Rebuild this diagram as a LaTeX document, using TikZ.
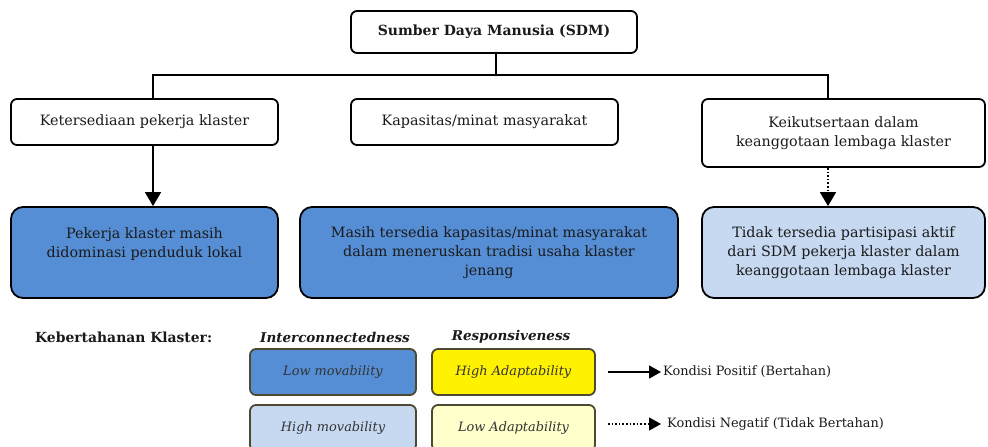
\documentclass[tikz,border=0pt]{standalone}
\usepackage{fontspec}
\setmainfont{DejaVu Serif}
\usetikzlibrary{arrows.meta}
\definecolor{boxblue}{HTML}{558ED5}
\definecolor{lightblue}{HTML}{C6D9F1}
\definecolor{lightyellow}{HTML}{FFFFCC}
\definecolor{olive}{HTML}{4D4830}
\definecolor{txt}{HTML}{1A1A1A}
\tikzset{
  basebox/.style={draw=black, line width=1.8pt, rounded corners=6pt, align=center, text=txt,
    font=\fontsize{14.3}{19}\selectfont, inner sep=0pt},
  whitebox/.style={basebox, fill=white},
  bluebox/.style={basebox, fill=boxblue, rounded corners=12pt},
  lbluebox/.style={basebox, fill=lightblue, rounded corners=12pt},
  legbox/.style={draw=olive, line width=1.8pt, rounded corners=6pt, text=black!80,
    font=\fontsize{12.9}{15}\selectfont\itshape, minimum width=166pt, minimum height=46pt, inner sep=0pt},
  conn/.style={line width=1.6pt},
  arr/.style={conn, -{Triangle[length=14pt,width=16pt]}},
  darr/.style={arr, dotted},
  larr/.style={conn, -{Triangle[length=12pt,width=13pt]}},
  ldarr/.style={larr, dotted},
  legtext/.style={font=\fontsize{12.9}{15}\selectfont, text=txt, inner sep=0pt},
}
\begin{document}
\begin{tikzpicture}[x=1pt,y=-1pt]
\clip (0,0) rectangle (988,447);
\fill[white] (0,0) rectangle (988,447);
% top
\node[whitebox, minimum width=286pt, minimum height=42pt, font=\fontsize{14}{16}\selectfont\bfseries] (sdm) at (494,32) {Sumber Daya Manusia (SDM)};
\node[whitebox, minimum width=267pt, minimum height=46pt] (ket) at (144.5,122) {Ketersediaan pekerja klaster};
\node[whitebox, minimum width=267pt, minimum height=46pt] (kap) at (484.5,122) {Kapasitas/minat masyarakat};
\node[whitebox, minimum width=283pt, minimum height=68pt] (keik) at (843.5,133) {Keikutsertaan dalam\\keanggotaan lembaga klaster};
% bottom
\node[bluebox, minimum width=267pt, minimum height=91pt] (pek) at (144.5,252.5) {Pekerja klaster masih\\didominasi penduduk lokal\\\mbox{}};
\node[bluebox, minimum width=378pt, minimum height=91pt] (mas) at (489,252.5) {Masih tersedia kapasitas/minat masyarakat\\dalam meneruskan tradisi usaha klaster\\jenang};
\node[lbluebox, minimum width=283pt, minimum height=91pt] (tid) at (843.5,252.5) {Tidak tersedia partisipasi aktif\\dari SDM pekerja klaster dalam\\keanggotaan lembaga klaster};
% tree connectors
\coordinate (hub) at (496,75);
\draw[conn] (sdm.south -| hub) -- (hub);
\draw[conn] (ket.north -| 153,0) |- (hub) -| (keik.north -| 828,0);
\draw[arr] (ket.south -| 153,0) -- (pek.north -| 153,0);
\draw[darr] (keik.south -| 828,0) -- (tid.north -| 828,0);
% legend
\node[font=\fontsize{13.9}{16}\selectfont\bfseries, text=txt, anchor=west, inner sep=0pt] (kebt) at (35,337) {Kebertahanan Klaster:};
\node[font=\fontsize{13.5}{16}\selectfont\bfseries\itshape, text=txt, inner sep=0pt] (inter) at (335,337) {Interconnectedness};
\node[font=\fontsize{13.5}{16}\selectfont\bfseries\itshape, text=txt, inner sep=0pt] (resp) at (511,337) {Responsiveness};
\node[legbox, fill=boxblue] (lowmov) at (333,372) {Low movability};
\node[legbox, fill=lightblue] (highmov) at (333,428) {High movability};
\node[legbox, fill=yellow, minimum width=163pt] (highad) at (513.5,372) {High Adaptability};
\node[legbox, fill=lightyellow, minimum width=163pt] (lowad) at (513.5,428) {Low Adaptability};
\coordinate (pa) at (608,372);
\coordinate (na) at (608,424);
\node[legtext, anchor=west] (pos) at (663,372) {Kondisi Positif (Bertahan)};
\node[legtext, anchor=west] (neg) at (667,424) {Kondisi Negatif (Tidak Bertahan)};
\draw[larr] (pa) -- ([xshift=-2pt]pos.west);
\draw[ldarr] (na) -- ([xshift=-6pt]neg.west);
\end{tikzpicture}
\end{document}
